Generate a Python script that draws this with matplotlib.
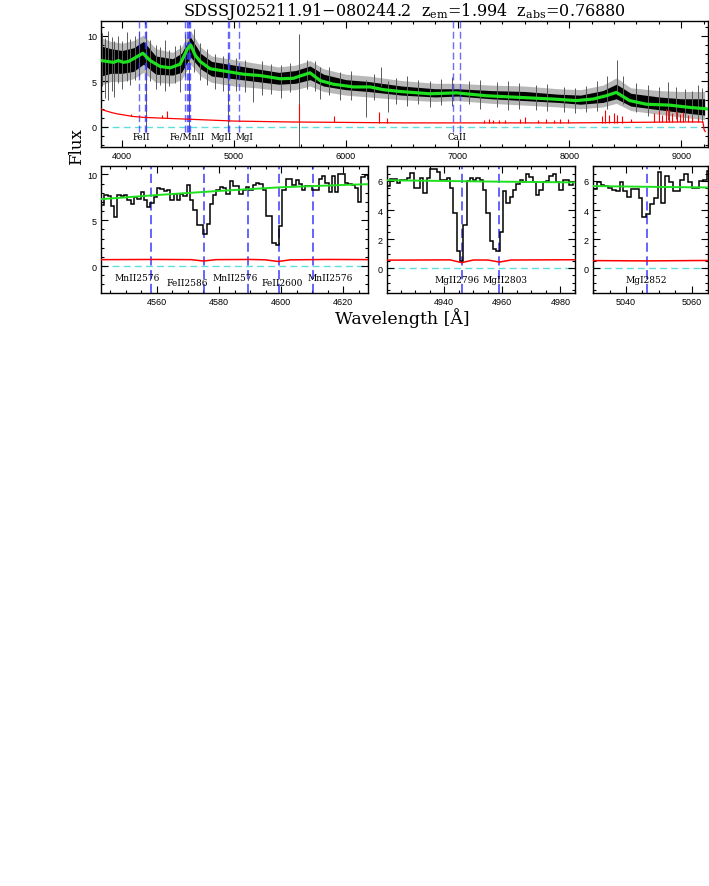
import numpy as np
import matplotlib
matplotlib.use("Agg")
import matplotlib.pyplot as plt
from matplotlib.ticker import MultipleLocator

plt.rcParams['mathtext.fontset'] = 'dejavuserif'

# ---------------- top panel data ----------------
cont_top_wave = [3810, 3921, 3966, 4011, 4056, 4115, 4184, 4250, 4339, 4429, 4518, 4584, 4614, 4652, 4697,
                 4786, 4935, 5084, 5233, 5412, 5531, 5591, 5680, 5770, 5889, 6068, 6217, 6336, 6485,
                 6750, 6989, 7257, 7555, 7853, 8062, 8211, 8330, 8420, 8539, 8688, 8897, 9076, 9225]
cont_top_flux = [7.3, 7.1, 7.3, 7.1, 7.2, 7.6, 8.1, 7.3, 6.65, 6.5, 6.9, 8.6, 9.0, 7.9, 7.2,
                 6.4, 6.1, 5.8, 5.65, 5.3, 5.35, 5.6, 5.95, 5.1, 4.7, 4.4, 4.4, 4.1, 3.9,
                 3.65, 3.75, 3.43, 3.25, 3.07, 2.9, 3.07, 3.43, 3.8, 2.9, 2.5, 2.4, 2.15, 2.0]

band_wave = [3810, 3900, 4000, 4100, 4190, 4300, 4450, 4530, 4610, 4700, 4800, 5000, 5200, 5400, 5550,
             5680, 5800, 6000, 6200, 6500, 6800, 7000, 7300, 7600, 7900, 8100, 8300, 8420, 8550,
             8800, 9000, 9210]
band_lo = [5.6, 5.9, 5.9, 6.1, 6.9, 5.8, 5.7, 6.0, 7.7, 6.4, 5.6, 5.3, 5.0, 4.7, 4.8,
           5.2, 4.5, 4.1, 3.9, 3.5, 3.3, 3.4, 3.1, 2.9, 2.7, 2.5, 2.7, 3.1, 2.3,
           1.9, 1.6, 1.3]
band_hi = [8.9, 8.6, 8.4, 8.7, 9.4, 7.8, 7.5, 8.1, 9.9, 8.1, 7.2, 6.8, 6.4, 6.0, 6.2,
           6.7, 5.8, 5.2, 5.0, 4.5, 4.2, 4.2, 4.0, 3.9, 3.6, 3.5, 4.0, 4.7, 3.7,
           3.3, 3.1, 3.1]
halo_lo = [4.6, 5.0, 5.0, 5.3, 6.0, 4.9, 4.8, 5.2, 6.9, 5.6, 4.9, 4.5, 4.3, 4.0, 4.1,
           4.5, 3.9, 3.5, 3.3, 3.0, 2.8, 2.9, 2.6, 2.4, 2.2, 2.0, 2.2, 2.6, 1.8,
           1.4, 1.1, 0.8]
halo_hi = [9.8, 9.4, 9.2, 9.5, 10.1, 8.6, 8.2, 8.8, 10.6, 8.8, 7.8, 7.4, 7.0, 6.6, 6.8,
           7.3, 6.4, 5.8, 5.6, 5.1, 4.8, 4.8, 4.6, 4.5, 4.2, 4.1, 4.6, 5.4, 4.3,
           4.0, 3.9, 3.9]

spike_wave = [3820, 3845, 3870, 3905, 3930, 3965, 4000, 4040, 4070, 4110, 4150, 4215, 4250, 4300,
              4340, 4380, 4420, 4470, 4520, 4560, 4599, 4640, 4700, 4760, 4830, 4900, 4950, 5020,
              5100, 5172, 5250, 5330, 5420, 5500, 5577, 5650, 5720, 5773, 5850, 5950, 6050, 6180,
              6250, 6314, 6375, 6450, 6550, 6650, 6750, 6850, 6950, 7100, 7200, 7350, 7450, 7550,
              7700, 7800, 7950, 8050, 8150, 8250, 8340, 8423, 8480, 8600, 8700, 8800, 8880, 8950,
              9030, 9100, 9150, 9190]
spike_lo = [4.5, 3.2, 3.0, 4.0, 3.3, 4.8, 4.2, 5.0, 4.6, 5.2, 5.5, -0.5, 5.0, 4.2,
            4.6, 4.0, 4.5, 4.8, 3.8, 5.5, -0.5, 6.0, 5.2, 4.6, 4.2, 4.0, -0.5, 4.0,
            3.8, 2.7, 3.5, 3.6, 3.2, 3.8, -2.2, 4.2, 4.0, 3.1, 3.5, 3.0, 3.0, 1.1,
            3.0, 4.5, 1.6, 2.5, 2.3, 2.5, 2.2, 2.4, 2.3, 2.5, 2.0, 2.2, 1.9, 2.0,
            1.9, 1.8, 1.7, 1.5, 1.6, 1.8, 2.0, 3.5, 2.5, 1.6, 1.2, 1.0, 0.8, 0.9,
            0.7, 0.6, 0.5, 0.6]
spike_hi = [10.3, 9.8, 10.6, 9.9, 9.5, 10.0, 9.4, 10.4, 9.7, 10.0, 10.5, 10.6, 9.6, 9.0,
            8.8, 9.6, 8.5, 8.9, 9.0, 10.2, 10.6, 10.8, 9.2, 8.6, 8.0, 7.8, 8.0, 7.6,
            7.4, 6.5, 7.2, 6.9, 6.8, 7.0, 10.2, 7.4, 7.2, 6.6, 6.6, 6.0, 6.2, 5.2,
            5.8, 6.6, 5.0, 5.4, 5.6, 5.2, 5.0, 5.3, 5.5, 5.0, 5.2, 4.9, 5.1, 4.8,
            4.6, 4.7, 4.4, 4.3, 4.5, 5.0, 5.6, 7.4, 5.6, 4.8, 4.6, 4.4, 4.9, 4.4,
            4.2, 4.0, 4.6, 4.3]

err_top_wave = [3810, 3830, 3860, 3900, 3950, 4000, 4100, 4200, 4400, 4600, 4800, 5000, 5500, 6000,
                6500, 7000, 7500, 8000, 8500, 9000, 9195, 9205, 9215]
err_top_flux = [2.0, 1.85, 1.75, 1.6, 1.45, 1.35, 1.15, 1.05, 0.95, 0.85, 0.75, 0.65, 0.55, 0.5,
                0.45, 0.45, 0.45, 0.45, 0.5, 0.55, 0.55, -0.3, -0.5]
err_spike_wave = [4075, 4358, 4400, 5577, 5893, 6300, 6364, 7240, 7280, 7320, 7370, 7420, 7560, 7600,
                  7720, 7790, 7860, 7920, 7990, 8290, 8320, 8350, 8400, 8430, 8470, 8550, 8760, 8800,
                  8830, 8860, 8890, 8920, 8960, 8990, 9020, 9060, 9100, 9150]
err_spike_base = [1.25, 0.97, 0.96, 0.55, 0.53, 0.47, 0.47, 0.45, 0.45, 0.45, 0.45, 0.45, 0.45, 0.45,
                  0.45, 0.45, 0.45, 0.45, 0.45, 0.47, 0.47, 0.47, 0.48, 0.48, 0.49, 0.5, 0.52, 0.53,
                  0.53, 0.53, 0.54, 0.54, 0.55, 0.55, 0.55, 0.55, 0.55, 0.55]
err_spike_top = [1.45, 1.35, 1.75, 2.5, 1.2, 1.65, 1.0, 0.8, 0.85, 0.75, 0.8, 0.75, 0.9, 1.1,
                 0.8, 0.85, 0.8, 0.85, 0.9, 1.2, 1.9, 1.3, 1.5, 1.35, 1.2, 0.9, 1.5, 1.8,
                 1.3, 2.0, 1.9, 1.5, 1.8, 1.4, 1.6, 1.3, 1.1, 1.0]

top_line_waves = [4146.4, 4199.9, 4214.6, 4558.0, 4575.3, 4589.2, 4599.2, 4610.3,
                  4946.2, 4958.9, 5046.3, 6959.8, 7021.4]
top_labels = ["FeII", "Fe/MnII", "MgII", "MgI", "CaII"]
top_label_waves = [4175, 4580, 4890, 5095, 6995]

# ---------------- zoom panel data ----------------
p1_start, p1_step = 4542.0, 1.062
p1_flux = [6.7, 7.8, 7.6, 6.6, 5.3, 7.8, 7.6, 7.8, 7.2, 6.8, 7.5, 7.3, 8.1, 7.2, 6.4, 6.9, 7.5, 8.5,
           8.4, 8.2, 8.3, 7.2, 7.9, 7.2, 7.9, 7.7, 8.9, 7.2, 6.1, 4.5, 4.5, 3.5, 4.6, 6.8, 7.8, 8.3,
           8.6, 8.5, 7.9, 9.3, 8.7,
           8.7, 7.9, 8.3, 8.6, 8.3, 8.9, 9.1, 9.0, 8.3, 5.5, 5.5, 2.5, 2.3, 4.4, 8.3, 9.5, 9.5,
           8.8, 9.4, 9.0, 8.3, 8.7, 8.7, 8.3, 8.3, 9.5, 9.8, 9.1, 8.1, 9.8, 8.1, 10.1, 10.1, 9.1,
           9.0, 8.9, 8.5, 7.0, 9.7, 9.9, 9.5]
p1_cont_wave = [4542, 4560, 4580, 4600, 4620, 4629]
p1_cont = [7.3, 7.75, 8.2, 8.6, 8.85, 8.95]
p1_err_wave = [4542, 4560, 4571, 4575, 4579, 4590, 4595, 4599, 4603, 4615, 4629]
p1_err = [0.7, 0.72, 0.7, 0.55, 0.7, 0.72, 0.68, 0.5, 0.68, 0.72, 0.7]
p1_lines = [4558.0, 4575.3, 4589.2, 4599.2, 4610.3]
p1_labels = ["MnII2576", "FeII2586", "MnII2576", "FeII2600", "MnII2576"]
p1_label_waves = [4553.6, 4569.8, 4585.2, 4600.3, 4615.9]
p1_label_y = [-1.2, -1.8, -1.2, -1.8, -1.2]

p2_start, p2_step = 4920.3, 1.14
p2_flux = [5.66, 6.12, 6.12, 5.84, 6.05, 6.05, 6.2, 6.57, 5.5, 5.5, 6.2, 5.2, 6.2, 6.8, 6.8, 6.6,
           6.1, 6.1, 6.2, 5.5, 3.8, 1.2, 0.5, 3.0, 6.0, 6.2, 6.1, 6.2, 6.1, 5.4, 3.8, 1.9, 1.3,
           1.2, 2.5, 5.3, 4.5, 4.9, 5.4, 5.8, 6.05, 5.9, 6.5, 6.3, 5.9, 5.0, 5.4, 5.9, 6.0, 6.35,
           6.45, 5.9, 5.4, 6.05, 6.1, 5.7, 5.9]
p2_cont_wave = [4920, 4940, 4960, 4986]
p2_cont = [6.05, 6.0, 5.95, 5.9]
p2_err_wave = [4920, 4942, 4946, 4950, 4955, 4959, 4963, 4986]
p2_err = [0.55, 0.57, 0.38, 0.56, 0.56, 0.42, 0.56, 0.58]
p2_lines = [4946.2, 4958.9]
p2_labels = ["MgII2796", "MgII2803"]
p2_label_waves = [4944.3, 4961.0]

p3_start, p3_step = 5029.9, 1.16
p3_flux = [5.43, 5.9, 5.73, 5.66, 5.5, 5.4, 5.3, 5.9, 5.3, 4.9, 5.43, 5.43, 4.86, 3.5, 3.72, 4.4,
           4.86, 6.64, 4.5, 6.35, 5.9, 5.3, 5.3, 6.1, 6.45, 5.9, 5.55, 5.5, 6.0, 6.1, 6.7]
p3_cont_wave = [5030, 5046, 5066]
p3_cont = [5.65, 5.6, 5.55]
p3_err_wave = [5030, 5046, 5066]
p3_err = [0.52, 0.5, 0.53]
p3_lines = [5046.3]
p3_labels = ["MgI2852"]
p3_label_waves = [5046.2]

# ---------------- styles ----------------
BLUE = '#3a3aff'
GREEN = '#1fe01f'
CYAN = '#5fdede'
SERIF = 'DejaVu Serif'
SANS = 'Liberation Sans'

W, H = 709, 887
fig = plt.figure(figsize=(W / 100, H / 100), dpi=100)


def box(l, t, r, b):
    return [l / W, 1 - b / H, (r - l) / W, (b - t) / H]


ax0 = fig.add_axes(box(101, 21.5, 708, 148))
ax1 = fig.add_axes(box(101, 167, 368, 294))
ax2 = fig.add_axes(box(387, 167, 575, 294))
ax3 = fig.add_axes(box(593, 167, 708, 294))


def style(ax, xmaj, xmin, ymaj, ymin):
    ax.xaxis.set_major_locator(MultipleLocator(xmaj))
    ax.xaxis.set_minor_locator(MultipleLocator(xmin))
    ax.yaxis.set_major_locator(MultipleLocator(ymaj))
    ax.yaxis.set_minor_locator(MultipleLocator(ymin))
    ax.tick_params(which='both', direction='in', top=True, right=True, width=0.8, pad=3)
    ax.tick_params(which='major', length=5)
    ax.tick_params(which='minor', length=2.5)
    for lab in ax.get_xticklabels() + ax.get_yticklabels():
        lab.set_family(SANS)
        lab.set_fontsize(6.5)
    for s in ax.spines.values():
        s.set_linewidth(1.0)


# top panel
ax0.fill_between(band_wave, halo_lo, halo_hi, color='0.72', lw=0, zorder=1)
ax0.fill_between(band_wave, band_lo, band_hi, color='black', lw=0, zorder=2)
ax0.vlines(spike_wave, spike_lo, spike_hi, color='0.35', lw=0.7, zorder=2)
ax0.vlines(top_line_waves, -0.6, 11.7, color=BLUE, lw=1.0, linestyles=(0, (5, 2.5)), alpha=0.75, zorder=3)
ax0.plot(cont_top_wave, cont_top_flux, color=GREEN, lw=2.3, zorder=4)
ax0.plot(err_top_wave, err_top_flux, color='red', lw=0.9, zorder=4)
ax0.vlines(err_spike_wave, err_spike_base, err_spike_top, color='red', lw=0.8, zorder=4)
ax0.axhline(0, color=CYAN, lw=1.0, ls=(0, (5, 3)), zorder=1)
for t, w in zip(top_labels, top_label_waves):
    ax0.text(w, -1.0, t, ha='center', va='center', fontsize=6.3, family=SERIF)
ax0.set_xlim(3810, 9240)
ax0.set_ylim(-2.2, 11.7)
style(ax0, 1000, 200, 5, 1)

ax0.set_title(r'SDSSJ025211.91$-$080244.2  z$_{\rm em}$=1.994  z$_{\rm abs}$=0.76880',
              fontsize=11.5, family=SERIF, pad=4)


def zoom_panel(ax, start, step, flux, cw, cf, ew, ef, lines, labels, lwaves, ly, xlim, ylim):
    edges = start + step * np.arange(len(flux) + 1)
    ax.stairs(flux, edges, color='black', lw=1.1, baseline=None, zorder=3)
    ax.plot(cw, cf, color=GREEN, lw=1.4, zorder=4)
    ax.plot(ew, ef, color='red', lw=1.1, zorder=4)
    ax.axhline(0, color=CYAN, lw=1.0, ls=(0, (5, 3)), zorder=1)
    for w in lines:
        ax.axvline(w, color=BLUE, lw=1.1, ls=(0, (6, 3)), zorder=2)
    for t, w, y in zip(labels, lwaves, ly):
        ax.text(w, y, t, ha='center', va='center', fontsize=6.5, family=SERIF)
    ax.set_xlim(*xlim)
    ax.set_ylim(*ylim)


zoom_panel(ax1, p1_start, p1_step, p1_flux, p1_cont_wave, p1_cont, p1_err_wave, p1_err,
           p1_lines, p1_labels, p1_label_waves, p1_label_y, (4542, 4628), (-2.94, 10.92))
style(ax1, 20, 5, 5, 1)
zoom_panel(ax2, p2_start, p2_step, p2_flux, p2_cont_wave, p2_cont, p2_err_wave, p2_err,
           p2_lines, p2_labels, p2_label_waves, [-0.8, -0.8], (4920.3, 4985), (-1.71, 7.03))
style(ax2, 20, 5, 2, 0.5)
zoom_panel(ax3, p3_start, p3_step, p3_flux, p3_cont_wave, p3_cont, p3_err_wave, p3_err,
           p3_lines, p3_labels, p3_label_waves, [-0.8], (5029.9, 5065), (-1.71, 7.03))
style(ax3, 20, 5, 2, 0.5)

fig.text(77 / W, 1 - 147 / H, 'Flux', rotation=90, ha='center', va='center', fontsize=12, family=SERIF)
fig.text(402 / W, 1 - 318 / H, 'Wavelength [Å]', ha='center', va='center', fontsize=12.5, family=SERIF)

fig.savefig('out.png', dpi=100)
